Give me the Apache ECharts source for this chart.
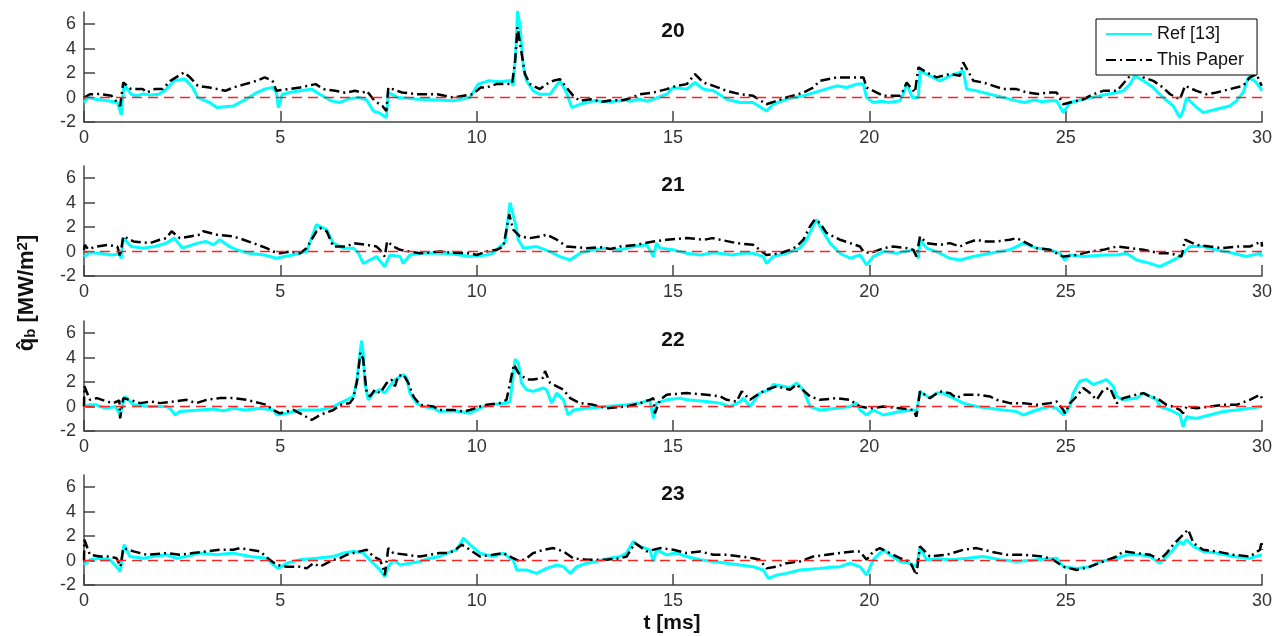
<!DOCTYPE html>
<html>
<head>
<meta charset="utf-8">
<script src="https://cdn.jsdelivr.net/npm/echarts@6/dist/echarts.min.js"></script>
<style>
  html, body { margin: 0; padding: 0; background: #fff; }
  #chart { width: 1287px; height: 636px; }
</style>
</head>
<body>
<div id="chart"></div>
<script>
// Panel captions, axis ticks
const panelTitles = ['20', '21', '22', '23'];
const xTicks = [0, 5, 10, 15, 20, 25, 30];
const yTicks = [-2, 0, 2, 4, 6];
const zeroLevel = 0;

// Heat flux traces, [t (ms), q_b (MW/m^2)]
const ref20 = [[0,-0.41],[0.1,0],[0.3,-0.14],[0.6,-0.27],[0.85,-0.4],[0.95,-1.4],[1.02,1.1],[1.2,0.27],[1.35,0.15],[1.5,0.3],[1.7,0.2],[1.9,0.27],[2.05,0.55],[2.3,1.37],[2.57,1.51],[2.75,0.9],[2.9,0],[3.2,-0.41],[3.38,-0.82],[3.6,-0.75],[3.8,-0.69],[4.2,0],[4.4,0.41],[4.6,0.69],[4.8,0.82],[4.9,0.4],[4.95,-0.82],[5.05,0.27],[5.3,0.45],[5.5,0.55],[5.8,0.69],[6.0,0.27],[6.3,-0.27],[6.5,-0.41],[6.7,-0.14],[7.0,0],[7.2,-0.2],[7.37,-1.1],[7.55,-1.3],[7.7,-1.65],[7.75,0.41],[8.0,0],[8.5,-0.14],[9.0,-0.2],[9.4,-0.27],[9.83,0],[10.04,1.1],[10.3,1.37],[10.6,1.3],[10.85,1.4],[10.93,0.96],[11.0,4.0],[11.04,7.1],[11.1,6.0],[11.19,2.47],[11.27,1.37],[11.44,0.55],[11.6,0.27],[11.87,0.27],[11.99,0.82],[12.12,1.37],[12.29,0.41],[12.42,-0.82],[12.63,-0.55],[12.97,-0.27],[13.4,-0.35],[13.8,-0.2],[13.9,-0.3],[14.15,-0.14],[14.35,-0.3],[14.5,-0.14],[14.84,0.27],[15.01,0.82],[15.35,0.69],[15.56,1.23],[15.77,0.69],[16.03,0.55],[16.37,-0.14],[16.7,-0.41],[17.04,-0.41],[17.38,-1.1],[17.55,-0.55],[17.89,-0.14],[18.32,0.14],[18.74,0.55],[19.17,0.96],[19.42,0.82],[19.68,1.1],[19.85,1.1],[19.93,0],[20.1,-0.41],[20.3,-0.3],[20.5,-0.41],[20.78,-0.27],[20.86,0.27],[20.95,1.1],[21.1,0],[21.25,0],[21.29,2.19],[21.54,1.78],[21.8,1.37],[22.05,1.78],[22.31,2.06],[22.39,2.19],[22.48,0.69],[22.73,0.55],[23.07,0.27],[23.41,0],[23.75,-0.27],[23.95,-0.4],[24.2,-0.2],[24.4,-0.35],[24.6,-0.27],[24.77,-0.27],[24.94,-1.23],[25.11,-0.41],[25.45,-0.14],[25.87,0.14],[26.3,0.41],[26.47,0.55],[26.64,1.1],[26.76,1.78],[26.98,1.37],[27.23,0.82],[27.48,0],[27.74,-0.69],[27.91,-1.65],[27.99,-1.1],[28.08,0],[28.25,-0.55],[28.5,-1.23],[28.84,-0.96],[29.18,-0.69],[29.35,-0.27],[29.52,0.41],[29.65,1.65],[29.82,1.37],[29.95,0.82],[30.0,0.55]];
const this20 = [[0,0],[0.15,0.27],[0.4,0.3],[0.7,0.14],[0.92,-0.69],[1.0,1.23],[1.2,0.69],[1.5,0.69],[1.6,0.41],[1.8,0.69],[2.0,0.69],[2.2,1.37],[2.55,2.06],[2.7,1.65],[2.9,0.96],[3.2,0.82],[3.4,0.69],[3.6,0.55],[3.8,0.82],[4.1,1.1],[4.4,1.37],[4.6,1.65],[4.8,1.37],[4.9,0.55],[5.2,0.69],[5.5,0.82],[5.9,1.1],[6.1,0.69],[6.4,0.55],[6.65,0.4],[6.9,0.55],[7.1,0.41],[7.2,0.55],[7.4,-0.27],[7.6,-0.69],[7.7,-1.1],[7.75,0.82],[8.1,0.41],[8.5,0.27],[9.0,0.27],[9.4,0],[9.9,0.27],[10.1,0.82],[10.25,0.82],[10.5,1.1],[10.9,1.1],[10.98,3.0],[11.04,5.76],[11.1,4.5],[11.23,1.92],[11.36,1.1],[11.61,0.69],[11.78,1.1],[11.95,1.37],[12.12,1.51],[12.29,0.82],[12.46,0.14],[12.63,-0.27],[12.9,-0.14],[13.2,-0.35],[13.45,-0.2],[13.65,-0.27],[13.82,-0.14],[14.16,0.27],[14.5,0.41],[14.84,0.69],[15.09,0.96],[15.35,1.1],[15.56,1.92],[15.77,1.23],[16.03,0.96],[16.37,0.55],[16.71,0.27],[17.04,0.14],[17.38,-0.55],[17.64,-0.27],[17.89,0],[18.32,0.41],[18.57,0.82],[18.74,1.37],[19.17,1.65],[19.68,1.65],[19.85,1.65],[19.93,0.82],[20.19,0.41],[20.36,0.14],[20.78,0.14],[20.86,0.55],[20.95,1.23],[21.16,0.41],[21.25,2.47],[21.46,2.06],[21.71,1.65],[22.05,1.92],[22.31,1.78],[22.39,2.88],[22.65,1.37],[22.9,1.23],[23.16,0.96],[23.41,0.69],[23.75,0.69],[24.01,0.41],[24.3,0.3],[24.6,0.41],[24.77,0.41],[24.94,-0.55],[25.11,-0.41],[25.45,-0.14],[25.7,0.27],[25.96,0.55],[26.3,0.55],[26.38,0.82],[26.64,1.78],[26.81,2.19],[26.98,1.65],[27.23,1.37],[27.48,0.82],[27.66,0.27],[27.91,-0.14],[28.04,0.96],[28.33,0.55],[28.59,0.27],[28.84,0.41],[29.18,0.69],[29.52,0.96],[29.69,1.65],[29.86,1.92],[29.99,0.96]];

const ref21 = [[0,-0.41],[0.15,-0.1],[0.4,-0.14],[0.7,-0.28],[0.9,-0.2],[0.95,-0.55],[1.0,1.1],[1.2,0.41],[1.5,0.28],[1.8,0.41],[2.1,0.69],[2.3,1.1],[2.5,0.28],[2.9,0.69],[3.1,0.83],[3.3,0.55],[3.46,0.97],[3.7,0.41],[3.9,0.14],[4.2,-0.14],[4.6,-0.28],[4.9,-0.55],[5.1,-0.41],[5.3,-0.28],[5.67,0],[5.92,2.21],[6.01,2.07],[6.18,1.8],[6.35,0.69],[6.6,0.28],[6.86,0.28],[6.99,-0.14],[7.11,-0.97],[7.28,-0.69],[7.45,-0.41],[7.66,-1.24],[7.79,-0.28],[8.05,-0.41],[8.13,-0.97],[8.3,-0.28],[8.56,-0.14],[9.06,-0.14],[9.4,-0.2],[9.83,-0.41],[10.25,-0.28],[10.42,-0.14],[10.59,0.41],[10.72,0.69],[10.85,4.0],[10.98,2.35],[11.06,0.97],[11.19,0.28],[11.53,0.41],[11.87,0],[12.12,-0.41],[12.38,-0.69],[12.63,-0.14],[12.97,0.14],[13.3,0.28],[13.65,0.14],[13.99,0.41],[14.33,0.55],[14.5,-0.41],[14.58,0.69],[14.67,0.28],[15.01,0.14],[15.35,-0.14],[15.7,-0.28],[16.0,-0.1],[16.2,-0.14],[16.5,-0.28],[16.8,-0.14],[17.04,-0.14],[17.3,-0.41],[17.38,-0.97],[17.55,-0.41],[17.89,-0.14],[18.23,0.28],[18.4,0.97],[18.57,2.07],[18.66,2.62],[18.74,2.07],[19.0,0.69],[19.25,-0.14],[19.51,-0.55],[19.76,-0.28],[19.85,-0.69],[19.93,-1.1],[20.1,-0.41],[20.36,0],[20.69,-0.14],[21.12,0.14],[21.25,-0.55],[21.29,0.97],[21.46,0.28],[21.71,0],[22.05,-0.55],[22.31,-0.69],[22.65,-0.41],[23.07,-0.14],[23.33,0],[23.58,0.14],[23.84,0.55],[23.92,0.69],[24.26,0.28],[24.6,0.14],[24.85,-0.14],[24.98,-0.69],[25.11,-0.28],[25.45,-0.41],[25.96,-0.28],[26.3,-0.28],[26.55,-0.14],[26.81,-0.69],[27.15,-0.97],[27.4,-1.24],[27.66,-0.83],[27.91,-0.41],[28.04,0],[28.16,0.41],[28.5,0.41],[28.84,0.14],[29.27,-0.14],[29.61,-0.41],[29.95,-0.14],[30.0,-0.41]];
const this21 = [[0,0.14],[0.02,0.55],[0.1,0.2],[0.32,0.41],[0.6,0.55],[0.85,0.41],[0.92,-0.41],[1.0,1.24],[1.26,0.83],[1.68,0.69],[1.93,0.97],[2.1,1.1],[2.23,1.66],[2.44,1.1],[2.95,1.38],[3.04,1.66],[3.38,1.38],[3.8,1.24],[4.06,0.97],[4.31,0.69],[4.65,0.28],[4.82,0],[4.99,-0.14],[5.25,0],[5.5,-0.14],[5.67,0.28],[5.92,1.66],[6.01,1.93],[6.18,1.66],[6.35,0.41],[6.69,0.41],[6.86,0.69],[7.2,0.55],[7.45,0.41],[7.54,0.14],[7.66,-0.41],[7.72,0.83],[7.88,0.41],[8.05,0.14],[8.3,0],[8.56,-0.14],[9.06,0],[9.4,-0.1],[9.83,-0.14],[10.0,-0.28],[10.25,0],[10.51,0.14],[10.68,0.41],[10.83,3.04],[10.93,1.8],[11.1,1.24],[11.36,1.1],[11.61,1.24],[11.78,1.38],[12.04,0.97],[12.29,0.41],[12.8,0.28],[13.2,0.35],[13.4,0.2],[13.65,0.41],[14.07,0.55],[14.5,0.83],[14.84,0.97],[15.35,1.1],[15.8,0.97],[16.0,1.1],[16.2,0.97],[16.62,0.69],[17.04,0.55],[17.21,0.14],[17.38,-0.28],[17.72,-0.14],[17.98,0.14],[18.15,0.41],[18.32,0.97],[18.49,2.07],[18.61,2.62],[18.74,2.35],[18.91,1.52],[19.08,1.24],[19.25,0.97],[19.51,0.69],[19.76,0.41],[19.85,0],[20.02,-0.14],[20.36,0.28],[20.61,0.41],[20.95,0.28],[21.12,0.14],[21.2,-0.41],[21.29,1.24],[21.46,0.69],[21.8,0.55],[22.05,0.69],[22.31,0.41],[22.48,0.69],[22.73,0.97],[22.9,0.83],[23.24,0.83],[23.58,0.97],[23.75,1.1],[24.01,0.69],[24.26,0.28],[24.6,0.14],[24.77,-0.14],[24.94,-0.41],[25.28,-0.28],[25.62,0],[25.96,0.14],[26.3,0.41],[26.64,0.28],[26.98,0.14],[27.4,-0.14],[27.66,-0.14],[27.95,-0.41],[28.04,0.97],[28.33,0.55],[28.67,0.41],[29.01,0.28],[29.35,0.41],[29.69,0.41],[29.99,0.83],[30.0,0.41]];

const ref22 = [[0,0],[0.15,0.14],[0.32,0.14],[0.41,0],[0.58,-0.14],[0.8,0],[0.92,-0.69],[1.04,0.83],[1.26,0.14],[1.68,0],[2.1,0],[2.19,-0.14],[2.32,-0.69],[2.44,-0.41],[2.95,-0.28],[3.3,-0.2],[3.55,-0.35],[3.8,-0.14],[4.1,-0.28],[4.48,-0.14],[4.82,-0.28],[4.91,-0.69],[5.16,-0.55],[5.5,-0.28],[6.01,-0.28],[6.35,0],[6.52,0.28],[6.69,0.55],[6.86,0.83],[6.94,1.93],[7.03,4.42],[7.07,5.39],[7.11,4.42],[7.15,1.93],[7.24,0.55],[7.37,1.1],[7.54,1.38],[7.66,1.1],[7.79,1.66],[7.88,2.07],[8.0,2.35],[8.13,2.62],[8.22,2.35],[8.3,1.1],[8.47,0.28],[8.64,0],[8.9,-0.14],[9.06,-0.41],[9.41,-0.35],[9.83,-0.55],[10.0,-0.28],[10.17,0],[10.34,0.14],[10.76,0.28],[10.85,0.41],[10.98,3.87],[11.06,3.59],[11.14,1.93],[11.27,1.38],[11.44,1.24],[11.7,1.52],[11.78,1.38],[11.91,0.28],[12.04,1.1],[12.21,0.55],[12.33,-0.69],[12.46,-0.28],[12.8,-0.14],[13.31,0],[13.82,0.14],[14.16,0.28],[14.41,0.55],[14.5,-0.97],[14.58,0.28],[14.84,0.55],[15.18,0.69],[15.35,0.55],[15.86,0.41],[16.2,0.28],[16.45,0],[16.71,0.41],[16.79,0.69],[16.96,0],[17.21,1.1],[17.47,1.38],[17.55,1.8],[17.81,1.66],[17.98,1.52],[18.15,1.93],[18.32,1.38],[18.49,0],[18.74,-0.28],[19.17,-0.14],[19.51,0],[19.68,0.28],[19.76,-0.28],[19.93,-0.69],[20.1,-0.28],[20.36,-0.69],[20.78,-0.41],[21.12,-0.28],[21.2,-0.41],[21.29,1.24],[21.54,0.69],[21.71,1.1],[21.88,1.1],[22.14,0.69],[22.39,0.28],[22.73,0],[23.07,-0.14],[23.41,-0.28],[23.75,-0.41],[23.92,-0.69],[24.26,-0.28],[24.6,0],[24.77,-0.14],[24.94,-0.69],[25.11,0],[25.19,1.1],[25.36,2.07],[25.53,2.21],[25.7,1.8],[26.04,2.21],[26.21,1.66],[26.3,0.83],[26.47,0.55],[26.81,0.69],[26.98,1.1],[27.15,0.83],[27.32,0.55],[27.4,0],[27.66,-0.28],[27.91,-0.69],[27.99,-1.66],[28.08,-0.83],[28.33,-0.97],[28.67,-0.69],[29.01,-0.41],[29.35,-0.28],[29.69,-0.14],[30.0,0]];
const this22 = [[0,0],[0.01,1.66],[0.15,0.55],[0.33,0.69],[0.58,0.41],[0.75,0.28],[0.9,0.5],[0.92,-0.97],[1.0,0.69],[1.17,0.55],[1.43,0.28],[1.7,0.41],[1.93,0.28],[2.27,0.41],[2.61,0.55],[2.86,0.28],[3.12,0.55],[3.46,0.69],[3.8,0.69],[4.14,0.55],[4.48,0.28],[4.65,0.14],[4.82,-0.28],[4.99,-0.55],[5.33,-0.28],[5.5,-0.55],[5.8,-1.1],[6.01,-0.69],[6.35,-0.28],[6.52,0.14],[6.77,0.28],[6.86,0.69],[6.96,2.21],[7.04,4.42],[7.11,3.87],[7.2,1.1],[7.28,0.83],[7.41,1.38],[7.54,1.1],[7.71,1.93],[7.83,2.21],[7.92,1.66],[8.0,2.49],[8.13,2.62],[8.26,1.93],[8.39,0.83],[8.56,0.14],[8.9,0],[9.06,-0.28],[9.41,-0.28],[9.66,-0.41],[9.83,-0.28],[10.08,0],[10.25,0.14],[10.59,0.28],[10.76,0.55],[10.95,3.45],[11.06,2.76],[11.27,2.21],[11.44,2.21],[11.7,2.35],[11.74,2.9],[11.87,1.93],[12.04,1.66],[12.21,1.38],[12.38,0.69],[12.63,0.28],[12.97,0.14],[13.31,-0.14],[13.82,0],[14.16,0.28],[14.41,0.55],[14.5,0.69],[14.54,-0.55],[14.67,0.55],[14.84,0.97],[15.35,1.1],[15.86,0.97],[16.2,0.83],[16.37,0.55],[16.62,0.41],[16.75,1.24],[16.96,0.55],[17.21,1.1],[17.38,1.38],[17.64,1.66],[17.81,1.52],[17.98,1.38],[18.15,1.8],[18.49,0.83],[18.74,0.55],[19.17,0.69],[19.51,0.55],[19.76,0],[20.02,-0.14],[20.36,0],[20.78,-0.14],[21.12,-0.28],[21.2,-0.83],[21.29,1.24],[21.54,0.69],[21.8,1.24],[22.05,1.1],[22.22,0.69],[22.39,0.97],[22.73,0.97],[23.07,0.83],[23.24,0.55],[23.58,0.28],[23.92,0.28],[24.26,0.14],[24.6,0.28],[24.77,0.41],[24.94,-0.28],[24.98,-0.55],[25.11,0.28],[25.28,0.83],[25.45,1.52],[25.62,1.1],[25.79,0.55],[25.96,1.38],[26.13,1.52],[26.3,0.28],[26.47,0.69],[26.81,0.97],[26.98,1.1],[27.15,0.83],[27.32,0.69],[27.57,0.14],[27.74,0],[27.91,-0.28],[27.99,-0.55],[28.08,0],[28.33,-0.14],[28.67,0],[29.01,0.14],[29.35,0.14],[29.69,0.55],[29.95,0.97],[30.0,0.69]];

const ref23 = [[0,-0.36],[0.15,0.06],[0.41,0.19],[0.66,0.06],[0.83,-0.5],[0.92,-0.91],[1.02,1.3],[1.17,0.33],[1.51,0.19],[1.77,0.33],[2.1,0.47],[2.36,0.19],[2.61,0.33],[2.95,0.61],[3.38,0.47],[3.8,0.61],[4.23,0.33],[4.65,0.19],[4.82,-0.36],[4.95,-0.64],[5.16,-0.22],[5.5,0.06],[5.92,0.19],[6.35,0.33],[6.6,0.61],[6.86,0.75],[7.11,0.61],[7.28,0.06],[7.54,-0.77],[7.66,-1.33],[7.75,-0.5],[7.88,0.06],[8.05,-0.36],[8.3,-0.22],[8.56,-0.08],[8.81,0.19],[9.06,0.33],[9.24,0.61],[9.49,0.88],[9.62,1.57],[9.66,1.85],[9.83,1.3],[10.08,0.61],[10.42,0.33],[10.68,0.61],[10.85,0.19],[10.93,0.06],[11.02,-0.77],[11.27,-0.77],[11.53,-1.05],[11.78,-0.64],[12.04,-0.36],[12.21,-0.5],[12.38,-1.05],[12.55,-0.5],[12.8,-0.22],[13.05,-0.08],[13.39,0.19],[13.65,0.33],[13.82,0.61],[13.99,1.57],[14.16,1.16],[14.41,0.88],[14.5,-0.08],[14.58,0.88],[14.84,0.47],[15.09,0.61],[15.35,0.33],[15.69,0.06],[16.03,-0.08],[16.37,-0.22],[16.71,-0.36],[17.04,-0.5],[17.3,-0.77],[17.43,-1.46],[17.64,-1.19],[17.89,-1.05],[18.23,-0.77],[18.74,-0.64],[19.0,-0.55],[19.25,-0.5],[19.51,-0.22],[19.76,-0.5],[19.93,-1.19],[20.1,0.06],[20.27,0.61],[20.36,0.88],[20.52,0.47],[20.78,-0.08],[21.03,-0.22],[21.2,-0.5],[21.29,1.02],[21.46,0.06],[21.75,0.14],[22.05,0.06],[22.48,0.19],[22.9,0.33],[23.33,0.06],[23.75,-0.08],[24.26,0.06],[24.77,0.19],[24.94,-0.5],[25.28,-0.64],[25.62,-0.5],[25.87,-0.08],[26.13,0.06],[26.3,0.19],[26.55,0.47],[26.89,0.47],[27.15,0.33],[27.4,-0.22],[27.57,0.33],[27.74,0.88],[27.91,1.57],[27.99,1.3],[28.08,1.71],[28.25,1.16],[28.5,0.75],[28.84,0.61],[29.27,0.33],[29.69,0.19],[30.0,0.47]];
const this23 = [[0,0],[0.01,1.71],[0.15,0.47],[0.41,0.33],[0.66,0.33],[0.83,0.19],[0.93,-0.5],[1.0,1.02],[1.26,0.75],[1.6,0.47],[2.1,0.61],[2.44,0.47],[2.78,0.61],[3.12,0.75],[3.46,0.88],[3.8,0.88],[3.97,1.02],[4.48,0.75],[4.73,0.06],[4.91,-0.36],[5.16,-0.5],[5.5,-0.5],[5.67,-0.64],[5.84,-0.22],[6.01,-0.5],[6.35,0.06],[6.52,0.19],[6.69,0.47],[7.03,0.75],[7.2,0.88],[7.37,0.33],[7.54,0.06],[7.62,-0.64],[7.66,-1.19],[7.75,1.02],[7.88,0.61],[8.22,0.47],[8.56,0.33],[8.81,0.47],[9.06,0.61],[9.24,0.61],[9.41,0.75],[9.62,1.3],[9.83,0.88],[10.08,0.33],[10.42,0.47],[10.68,0.61],[10.93,0.19],[11.1,-0.08],[11.27,0.19],[11.44,0.61],[11.7,0.88],[11.95,1.02],[12.21,0.75],[12.46,0.19],[12.8,0.06],[13.31,0.06],[13.65,0.19],[13.82,0.33],[14.03,1.44],[14.33,0.75],[14.67,1.02],[15.01,0.88],[15.35,0.61],[15.69,0.75],[16.03,0.47],[16.37,0.47],[16.71,0.33],[17.04,0.19],[17.21,0.06],[17.38,-0.64],[17.64,-0.5],[17.89,-0.22],[18.23,-0.08],[18.57,0.33],[18.91,0.47],[19.25,0.61],[19.59,0.75],[19.76,0.75],[19.93,0.06],[20.1,0.75],[20.27,1.02],[20.52,0.61],[20.78,0.19],[21.03,-0.08],[21.2,-1.19],[21.29,1.16],[21.54,0.33],[21.97,0.47],[22.39,0.88],[22.73,1.02],[23.07,0.75],[23.5,0.47],[23.92,0.47],[24.43,0.33],[24.68,0.06],[24.94,-0.5],[25.28,-0.77],[25.62,-0.5],[25.96,-0.08],[26.3,0.33],[26.47,0.75],[26.81,0.61],[27.15,0.47],[27.4,0.06],[27.57,0.61],[27.74,1.3],[27.91,1.85],[28.12,2.54],[28.25,1.44],[28.5,0.88],[28.84,0.75],[29.27,0.47],[29.69,0.33],[29.95,0.88],[29.99,1.57],[30.0,0.88]];

const refTraces = [ref20, ref21, ref22, ref23];
const paperTraces = [this20, this21, this22, this23];

const FONT = "'Liberation Sans', Arial, Helvetica, sans-serif";
const AXIS_COLOR = '#444';
const gridTops = [12, 166, 321, 475];
const gridLeft = 84, gridWidth = 1178, gridHeight = 110;

const grids = gridTops.map(top => ({ left: gridLeft, top: top, width: gridWidth, height: gridHeight }));

const xAxes = gridTops.map((_, i) => ({
  gridIndex: i, type: 'value',
  min: xTicks[0], max: xTicks[xTicks.length - 1], interval: 5,
  axisLine: { show: true, onZero: false, lineStyle: { color: AXIS_COLOR, width: 1.5 } },
  axisTick: { show: true, inside: true, length: 11, lineStyle: { color: AXIS_COLOR, width: 1.5 } },
  axisLabel: { color: '#333', fontSize: 18, fontFamily: FONT, margin: 7 },
  splitLine: { show: false }
}));

const yAxes = gridTops.map((_, i) => ({
  gridIndex: i, type: 'value',
  min: -2, max: 7, interval: 2,
  axisLine: { show: true, onZero: false, lineStyle: { color: AXIS_COLOR, width: 1.5 } },
  axisTick: { show: true, inside: true, length: 11, customValues: yTicks, lineStyle: { color: AXIS_COLOR, width: 1.5 } },
  axisLabel: { color: '#333', fontSize: 18, fontFamily: FONT, margin: 8, customValues: yTicks },
  splitLine: { show: false }
}));

const series = [];
gridTops.forEach((_, i) => {
  series.push({
    name: 'Ref [13]', type: 'line', xAxisIndex: i, yAxisIndex: i,
    data: refTraces[i], symbol: 'none', showSymbol: false, z: 2,
    lineStyle: { color: '#00FFFF', width: 3 }, itemStyle: { color: '#00FFFF' }
  });
  series.push({
    name: 'This Paper', type: 'line', xAxisIndex: i, yAxisIndex: i,
    data: paperTraces[i], symbol: 'none', showSymbol: false, z: 3,
    lineStyle: { color: '#000', width: 2.5, type: [10, 4, 2, 4] }, itemStyle: { color: '#000' }
  });
  series.push({
    name: 'zero', type: 'line', xAxisIndex: i, yAxisIndex: i,
    data: [[xTicks[0], zeroLevel], [xTicks[xTicks.length - 1], zeroLevel]],
    symbol: 'none', showSymbol: false, z: 4, silent: true,
    lineStyle: { color: '#FF2020', width: 1.5, type: [10, 6] }
  });
});

const titles = panelTitles.map((t, i) => ({
  text: t, left: gridLeft + gridWidth / 2, top: gridTops[i] + 9, textAlign: 'center', padding: 0,
  textStyle: { fontSize: 21, fontWeight: 'bold', fontFamily: FONT, color: '#111' }
}));

const chart = echarts.init(document.getElementById('chart'), null, { renderer: 'canvas' });
chart.setOption({
  animation: false,
  backgroundColor: '#fff',
  title: titles,
  grid: grids,
  xAxis: xAxes,
  yAxis: yAxes,
  legend: {
    data: ['Ref [13]', 'This Paper'],
    orient: 'vertical', left: 1096, top: 19,
    itemWidth: 46, itemHeight: 14, itemGap: 8,
    padding: [6, 13, 6, 9],
    borderColor: '#000', borderWidth: 1, borderRadius: 0,
    backgroundColor: '#fff', selectedMode: false,
    itemStyle: { opacity: 0 },
    textStyle: { fontSize: 18, fontFamily: FONT, color: '#111' }
  },
  series: series,
  graphic: [
    {
      type: 'text', x: 27, y: 293, rotation: Math.PI / 2,
      style: {
        text: '{q|q\u0302}{s|b}{n| [MW/m}{p|2}{n|]}',
        align: 'center', verticalAlign: 'middle',
        rich: {
          q: { fontSize: 22, fontWeight: 'bold', fontFamily: FONT, fill: '#111', lineHeight: 23, verticalAlign: 'middle' },
          n: { fontSize: 22, fontWeight: 'bold', fontFamily: FONT, fill: '#111', lineHeight: 23, verticalAlign: 'middle' },
          s: { fontSize: 15, fontWeight: 'bold', fontFamily: FONT, fill: '#111', lineHeight: 15, verticalAlign: 'bottom' },
          p: { fontSize: 15, fontWeight: 'bold', fontFamily: FONT, fill: '#111', lineHeight: 15, verticalAlign: 'top' }
        }
      }
    },
    {
      type: 'text', x: 672, y: 623,
      style: { text: 't [ms]', align: 'center', verticalAlign: 'middle', fontSize: 21, fontWeight: 'bold', fontFamily: FONT, fill: '#111' }
    }
  ]
});
</script>
</body>
</html>
